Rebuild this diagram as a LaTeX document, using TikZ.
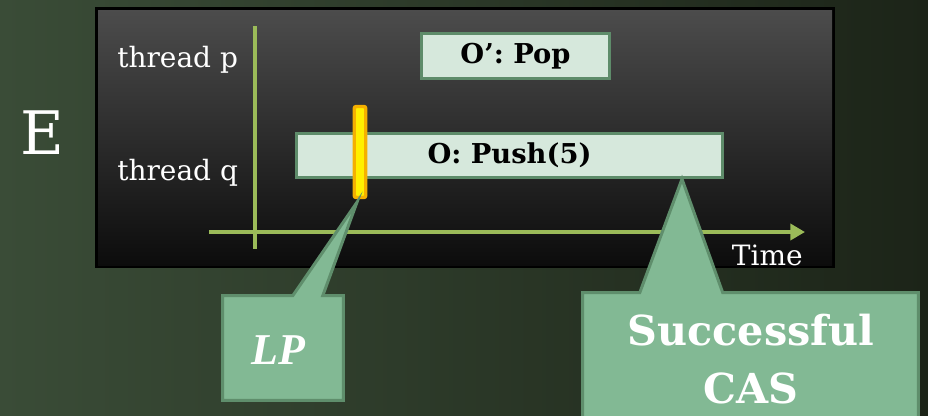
\documentclass[tikz,border=0pt]{standalone}
\usepackage{fontspec}
\setmainfont{DejaVu Serif}
\newfontfamily\lpfont{Liberation Serif}
\usetikzlibrary{arrows.meta,calc}

\definecolor{bgleft}{HTML}{3A4C37}
\definecolor{bgright}{HTML}{1C2418}
\definecolor{paneltop}{HTML}{4C4C4C}
\definecolor{panelbot}{HTML}{0C0C0C}
\definecolor{axisgreen}{HTML}{9BBB59}
\definecolor{opfill}{HTML}{D6E8DC}
\definecolor{opline}{HTML}{5E8C6A}
\definecolor{callfill}{HTML}{82B994}
\definecolor{callline}{HTML}{5F8E6C}
\definecolor{lpyellow}{HTML}{FFF000}
\definecolor{lporange}{HTML}{F5B000}

\tikzset{
  threadlabel/.style={text=white, inner sep=0pt, font=\fontsize{21pt}{25pt}\selectfont},
  opbox/.style={draw=opline, fill=opfill, line width=2.25pt, inner sep=0pt,
    font=\fontsize{20.5pt}{24pt}\selectfont\bfseries},
  axisline/.style={draw=axisgreen, line width=3pt},
  calloutshape/.style={draw=callline, fill=callfill, line width=2.25pt, line join=miter},
  callouttext/.style={text=white, inner sep=0pt, align=center},
}

\begin{document}
\begin{tikzpicture}[x=0.75pt, y=-0.75pt]
\useasboundingbox (0,0) rectangle (928,415);

% textured green backdrop
\shade[left color=bgleft, right color=bgright] (0,0) rectangle (928,415);

% dark panel holding the execution
\fill[black] (95,7) rectangle (835,268);
\shade[top color=paneltop, bottom color=panelbot] (98,10) rectangle (832,265);

% history name
\node[text=white, inner sep=0pt, anchor=base, font=\fontsize{45pt}{50pt}\selectfont] (hist) at (42.5,154) {E};

% thread labels
\node[threadlabel, anchor=base west] (tp) at (117,67) {thread p};
\node[threadlabel, anchor=base west] (tq) at (117,180) {thread q};

% axes
\coordinate (vtop) at (255,26);
\coordinate (vbot) at (255,249);
\coordinate (hstart) at (209,232);
\coordinate (hend) at (805,232);
\draw[axisline] (vtop) -- (vbot);
\draw[axisline, -{Triangle[length=11pt,width=12pt]}] (hstart) -- (hend);
\node[threadlabel, anchor=base east] (time) at (803,265) {Time};

% operations
\node[opbox, minimum width=188*0.75pt, minimum height=45*0.75pt] (pop) at (515.5,56) {O’: Pop};
\node[opbox, minimum width=426*0.75pt, minimum height=44*0.75pt] (push) at (509.5,155.5) {O: Push(5)};

% linearization point marker
\node[draw=lporange, fill=lpyellow, line width=2.6pt, rounded corners=1.5pt, inner sep=0pt,
      minimum width=11.5*0.75pt, minimum height=91*0.75pt] (lpbar) at (360,152) {};

% LP callout
\node[inner sep=0pt, minimum width=120*0.75pt, minimum height=104*0.75pt] (lpbox) at (283,348) {};
\coordinate (lptip) at ($(lpbar.south)+(-3,3)$);
\path[calloutshape] (lpbox.north west) -- ($(lpbox.north west)+(70,0)$) -- (lptip)
  -- ($(lpbox.north west)+(100,0)$) -- (lpbox.north east) -- (lpbox.south east)
  -- (lpbox.south west) -- cycle;
\node[callouttext, font=\fontsize{33pt}{36pt}\lpfont\bfseries\itshape] (lptext) at (278,350) {LP};

% CAS callout
\node[inner sep=0pt, minimum width=335*0.75pt, minimum height=140*0.75pt] (casbox) at (750.5,363) {};
\coordinate (castip) at (push.south -| 682,0);
\path[calloutshape] (casbox.north west) -- ($(casbox.north west)+(57,0)$) -- (castip)
  -- ($(casbox.north west)+(140,0)$) -- (casbox.north east) -- (casbox.south east)
  -- (casbox.south west) -- cycle;
\node[callouttext, font=\fontsize{31pt}{43.5pt}\selectfont\bfseries, anchor=base] (castext) at (751,403)
  {Successful\\CAS};
\end{tikzpicture}
\end{document}
